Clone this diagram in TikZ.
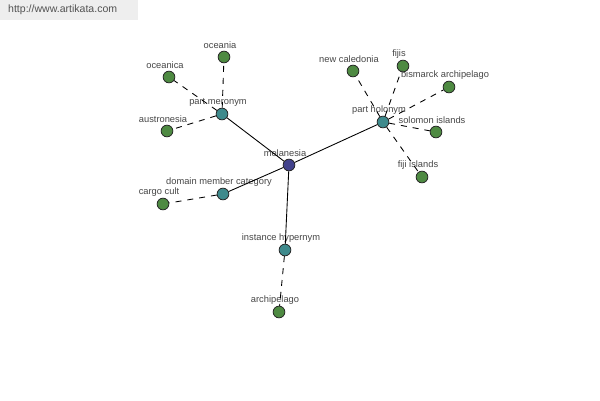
\documentclass[tikz,border=0pt]{standalone}
\usepackage{fontspec}
\setmainfont{Liberation Sans}

\begin{document}
\begin{tikzpicture}[
  x=0.02cm,y=-0.02cm,
  font=\fontsize{5.3}{6}\selectfont,
  term/.style={circle,draw=black!85,line width=.45pt,inner sep=0pt,
    minimum size=0.235cm},
  hub/.style={term,fill=hubblue},
  rel/.style={term,fill=reltea},
  leaf/.style={term,fill=leafgreen},
  lbl/.style={text=black!72,inner sep=0pt,xshift=-0.08cm},
  link/.style={line width=.5pt,draw=black},
  weak/.style={line width=.5pt,draw=black,dash pattern=on 3.4pt off 3.4pt},
  every label/.style={lbl},
  label distance=0.8pt
]

\definecolor{hubblue}{RGB}{66,66,140}
\definecolor{reltea}{RGB}{62,138,140}
\definecolor{leafgreen}{RGB}{78,138,66}
\definecolor{stamp}{RGB}{238,238,238}

\useasboundingbox[fill=white] (0,0) rectangle (600,400);

% watermark
\fill[stamp] (0,0) rectangle (138,20);
\node[text=black!68,font=\fontsize{6}{7}\selectfont,anchor=west] (site) at (2,10)
  {http://www.artikata.com};

% centre and relations
\node[hub,label={above:melanesia}] (melanesia) at (289,165) {};
\node[rel,label={above:part meronym}] (meronym) at (222,114) {};
\node[rel,label={above:part holonym}] (holonym) at (383,122) {};
\node[rel,label={above:domain member category}] (domain) at (223,194) {};
\node[rel,label={above:instance hypernym}] (hypernym) at (285,250) {};

% terms
\node[leaf,label={above:oceania}] (oceania) at (224,57) {};
\node[leaf,label={above:oceanica}] (oceanica) at (169,77) {};
\node[leaf,label={above:austronesia}] (austronesia) at (167,131) {};
\node[leaf,label={above:new caledonia}] (caledonia) at (353,71) {};
\node[leaf,label={above:fijis}] (fijis) at (403,66) {};
\node[leaf,label={above:bismarck archipelago}] (bismarck) at (449,87) {};
\node[leaf,label={above:solomon islands}] (solomon) at (436,132) {};
\node[leaf,label={above:fiji islands}] (fijiislands) at (422,177) {};
\node[leaf,label={above:cargo cult}] (cargo) at (163,204) {};
\node[leaf,label={above:archipelago}] (archipelago) at (279,312) {};

\draw[link] (melanesia) -- (meronym);
\draw[link] (melanesia) -- (holonym);
\draw[link] (melanesia) -- (domain);
\draw[link] (melanesia) -- (hypernym);

\draw[weak] (meronym) -- (oceania);
\draw[weak] (meronym) -- (oceanica);
\draw[weak] (meronym) -- (austronesia);
\draw[weak] (holonym) -- (caledonia);
\draw[weak] (holonym) -- (fijis);
\draw[weak] (holonym) -- (bismarck);
\draw[weak] (holonym) -- (solomon);
\draw[weak] (holonym) -- (fijiislands);
\draw[weak] (domain) -- (cargo);
\draw[weak] (hypernym) -- (archipelago);

\end{tikzpicture}
\end{document}
